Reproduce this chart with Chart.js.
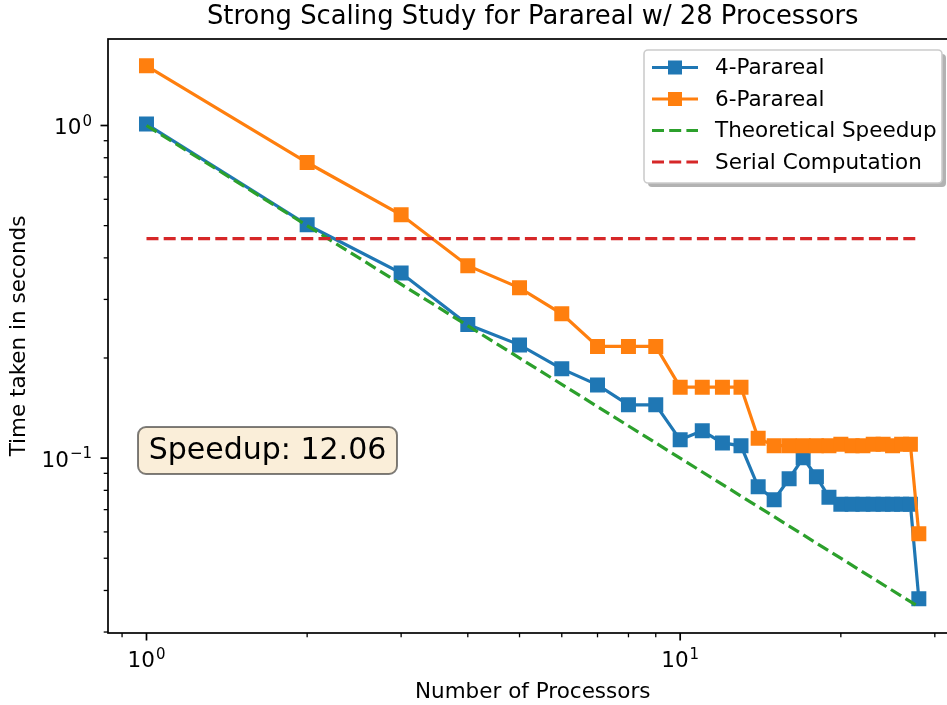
<!DOCTYPE html>
<html>
<head>
<meta charset="utf-8">
<title>Strong Scaling Study for Parareal</title>
<script src="https://cdn.jsdelivr.net/npm/chart.js@4.4.0/dist/chart.umd.min.js"></script>
<style>
  html, body { margin: 0; padding: 0; overflow: hidden; background: #fff; }
  #wrap { width: 968px; height: 705px; }
</style>
</head>
<body>
<div id="wrap"><canvas id="scalingChart" width="968" height="705"></canvas></div>
<script>
// number of processors
var processors = [1, 2, 3, 4, 5, 6, 7, 8, 9, 10, 11, 12, 13, 14, 15, 16, 17, 18, 19, 20, 21, 22, 23, 24, 25, 26, 27, 28];

// time taken in seconds
var para4 = [1.01, 0.503, 0.360, 0.252, 0.219, 0.1855, 0.166, 0.1446, 0.1446, 0.1135, 0.1208, 0.1111, 0.1089, 0.0820,
             0.0750, 0.0867, 0.1002, 0.0879, 0.0763, 0.0727, 0.0727, 0.0727, 0.0727, 0.0727, 0.0727, 0.0727, 0.0727, 0.0378];
var para6 = [1.512, 0.774, 0.539, 0.379, 0.325, 0.2716, 0.2166, 0.2166, 0.2166, 0.1634, 0.1634, 0.1634, 0.1634, 0.1148,
             0.109, 0.109, 0.109, 0.109, 0.109, 0.110, 0.109, 0.109, 0.110, 0.110, 0.109, 0.110, 0.110, 0.0592];

// theoretical speedup line (end points) and serial time
var theoryX = [1, 28];
var theoryY = [1.0, 0.0357];
var serialX = [1, 28];
var serialY = [0.457, 0.457];

// tick positions and labels (base, exponent)
var xTicks = [0.9, 1, 2, 3, 4, 5, 6, 7, 8, 9, 10, 20, 30];
var xMajor = [1, 10];
var xLabels = { 1: ['10', '0'], 10: ['10', '1'] };
var yTicks = [0.03, 0.04, 0.05, 0.06, 0.07, 0.08, 0.09, 0.1, 0.2, 0.3, 0.4, 0.5, 0.6, 0.7, 0.8, 0.9, 1];
var yMajor = [0.1, 1];
var yLabels = { 0.1: ['10', '\u22121'], 1: ['10', '0'] };

var FONT = '"DejaVu Sans", sans-serif';

function pairs(xs, ys) {
    return xs.map(function (x, i) { return { x: x, y: ys[i] }; });
}

// draws "10^n" with x = right edge (align right) or centre
function powLabel(ctx, parts, x, baseY, supY, align) {
    ctx.font = '21.5px ' + FONT;
    var w1 = ctx.measureText(parts[0]).width;
    ctx.font = '15px ' + FONT;
    var w2 = ctx.measureText(parts[1]).width;
    var total = w1 + 1 + w2;
    var left = align === 'right' ? x - total : x - total / 2;
    ctx.textAlign = 'left';
    ctx.textBaseline = 'alphabetic';
    ctx.font = '21.5px ' + FONT;
    ctx.fillText(parts[0], left, baseY);
    ctx.font = '15px ' + FONT;
    ctx.fillText(parts[1], left + w1 + 1, supY);
}

// spines, tick marks, tick labels, title, text box and legend drawn matplotlib-style
var mplDecor = {
    id: 'mplDecor',
    afterDraw: function (chart) {
        var ctx = chart.ctx;
        var a = chart.chartArea;
        var xs = chart.scales.x, ys = chart.scales.y;
        ctx.save();
        ctx.fillStyle = '#000';
        ctx.strokeStyle = '#000';

        xTicks.forEach(function (v) {
            var major = xMajor.indexOf(v) >= 0;
            var px = xs.getPixelForValue(v);
            ctx.lineWidth = major ? 1.7 : 1.3;
            ctx.beginPath();
            ctx.moveTo(px, a.bottom);
            ctx.lineTo(px, a.bottom + (major ? 7.5 : 4.3));
            ctx.stroke();
            if (xLabels[v]) powLabel(ctx, xLabels[v], px, a.bottom + 34.3, a.bottom + 26.3, 'center');
        });
        yTicks.forEach(function (v) {
            var major = yMajor.indexOf(v) >= 0;
            var py = ys.getPixelForValue(v);
            ctx.lineWidth = major ? 1.7 : 1.3;
            ctx.beginPath();
            ctx.moveTo(a.left, py);
            ctx.lineTo(a.left - (major ? 7.5 : 4.3), py);
            ctx.stroke();
            if (yLabels[v]) powLabel(ctx, yLabels[v], a.left - 16, py + 8.6, py + 0.3, 'right');
        });

        // spines
        ctx.lineWidth = 1.7;
        ctx.strokeRect(a.left, a.top, a.right - a.left, a.bottom - a.top);

        // title
        ctx.font = '25.8px ' + FONT;
        ctx.textAlign = 'center';
        ctx.textBaseline = 'middle';
        ctx.fillText('Strong Scaling Study for Parareal w/ 28 Processors', (a.left + a.right) / 2, 17);

        // speedup text box
        ctx.beginPath();
        ctx.roundRect(138, 427, 259, 47, 8);
        ctx.fillStyle = 'rgba(245, 222, 179, 0.5)';
        ctx.fill();
        ctx.strokeStyle = 'rgba(0, 0, 0, 0.5)';
        ctx.lineWidth = 2;
        ctx.stroke();
        ctx.fillStyle = '#000';
        ctx.font = '30px ' + FONT;
        ctx.fillText('Speedup: 12.06', 267.5, 451);

        // legend
        var lx = 644, ly = 50, lw = 298, lh = 133;
        ctx.beginPath();
        ctx.roundRect(lx + 4, ly + 4, lw, lh, 4);
        ctx.fillStyle = 'rgba(0, 0, 0, 0.3)';
        ctx.fill();
        ctx.beginPath();
        ctx.roundRect(lx, ly, lw, lh, 4);
        ctx.fillStyle = '#fff';
        ctx.fill();
        ctx.strokeStyle = '#cccccc';
        ctx.lineWidth = 1.6;
        ctx.stroke();

        ctx.font = '21.5px ' + FONT;
        ctx.textAlign = 'left';
        chart.data.datasets.forEach(function (ds, i) {
            var cy = 67.5 + i * 31.5;
            ctx.strokeStyle = ds.borderColor;
            ctx.lineWidth = ds.borderWidth;
            ctx.setLineDash(ds.borderDash || []);
            ctx.beginPath();
            ctx.moveTo(652, cy);
            ctx.lineTo(698, cy);
            ctx.stroke();
            ctx.setLineDash([]);
            if (ds.pointRadius > 0) {
                ctx.fillStyle = ds.borderColor;
                ctx.fillRect(675 - 7, cy - 7, 14, 14);
            }
            ctx.fillStyle = '#000';
            ctx.fillText(ds.label, 715, cy + 1);
        });

        ctx.restore();
    }
};

var ctx = document.getElementById('scalingChart').getContext('2d');

var scalingChart = new Chart(ctx, {
    type: 'line',
    data: {
        datasets: [{
            label: '4-Parareal',
            data: pairs(processors, para4),
            borderColor: '#1f77b4',
            backgroundColor: '#1f77b4',
            borderWidth: 3.2,
            pointStyle: 'rect',
            pointRadius: 10.6,
            pointBorderWidth: 0,
            fill: false,
            order: 3
        }, {
            label: '6-Parareal',
            data: pairs(processors, para6),
            borderColor: '#ff7f0e',
            backgroundColor: '#ff7f0e',
            borderWidth: 3.2,
            pointStyle: 'rect',
            pointRadius: 10.6,
            pointBorderWidth: 0,
            fill: false,
            order: 2
        }, {
            label: 'Theoretical Speedup',
            data: pairs(theoryX, theoryY),
            borderColor: '#2ca02c',
            borderWidth: 3.2,
            borderDash: [12, 5.2],
            pointRadius: 0,
            fill: false,
            order: 1
        }, {
            label: 'Serial Computation',
            data: pairs(serialX, serialY),
            borderColor: '#d62728',
            borderWidth: 3.2,
            borderDash: [12, 5.2],
            pointRadius: 0,
            fill: false,
            order: 0
        }]
    },
    options: {
        responsive: false,
        animation: false,
        devicePixelRatio: 1,
        layout: { padding: { top: 39, right: 2, left: 0, bottom: 0 } },
        plugins: {
            legend: { display: false },
            title: { display: false },
            tooltip: { enabled: false }
        },
        elements: { line: { tension: 0 } },
        scales: {
            x: {
                type: 'logarithmic',
                min: 0.847,
                max: 33.07,
                bounds: 'data',
                grid: { display: false },
                border: { display: false },
                ticks: { display: false },
                title: {
                    display: true,
                    text: 'Number of Processors',
                    color: '#000',
                    font: { family: FONT, size: 21.5 },
                    padding: { top: 2, bottom: 0 }
                },
                afterBuildTicks: function (scale) {
                    scale.ticks = xTicks.map(function (v) { return { value: v }; });
                },
                afterFit: function (scale) { scale.height = 72; }
            },
            y: {
                type: 'logarithmic',
                min: 0.0298,
                max: 1.82,
                bounds: 'data',
                grid: { display: false },
                border: { display: false },
                ticks: { display: false },
                title: {
                    display: true,
                    text: 'Time taken in seconds',
                    color: '#000',
                    font: { family: FONT, size: 21.5 },
                    padding: { top: 7, bottom: 0 }
                },
                afterBuildTicks: function (scale) {
                    scale.ticks = yTicks.map(function (v) { return { value: v }; });
                },
                afterFit: function (scale) { scale.width = 108; }
            }
        }
    },
    plugins: [mplDecor]
});
</script>
</body>
</html>
